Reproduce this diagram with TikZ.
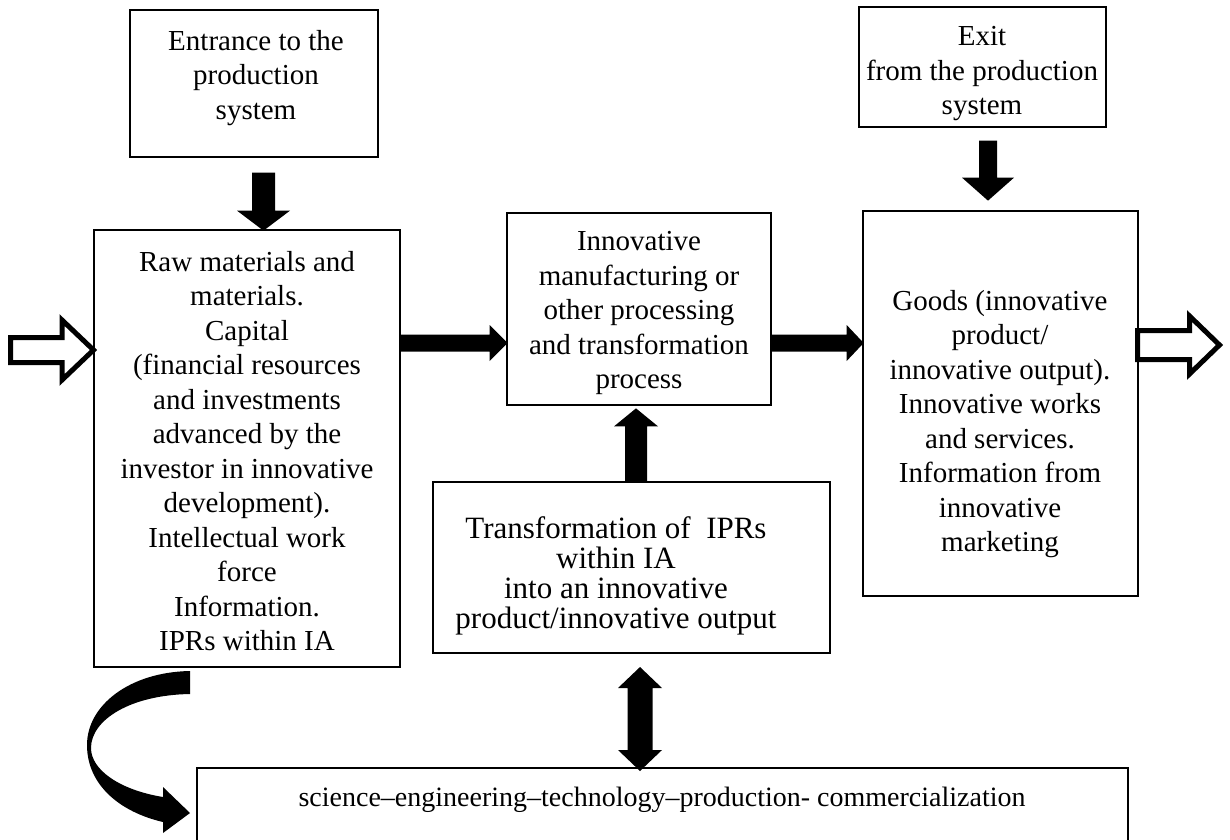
\documentclass[tikz,border=0pt]{standalone}
\usepackage{fontspec}
\setmainfont{Liberation Serif}
\usetikzlibrary{calc}
\newcommand{\blockarrow}[6]{% start, angle, length, shaft width, head width, head length
  \fill[black, shift={#1}, rotate=#2] (0,{-#4/2}) -- ({#3-#6},{-#4/2}) -- ({#3-#6},{-#5/2}) -- (#3,0) -- ({#3-#6},{#5/2}) -- ({#3-#6},{#4/2}) -- (0,{#4/2}) -- cycle;}
\begin{document}
\begin{tikzpicture}[x=1pt,y=-1pt,
  box/.style={draw=black, line width=1.3pt, inner sep=0pt},
  txt/.style={align=center, inner sep=0pt, font=\fontsize{29}{34.5}\selectfont},
  hollow/.style={draw=black, line width=5pt, fill=white, line join=miter}]
\useasboundingbox (0,0) rectangle (1230,839);
% boxes
\node[box, minimum width=248pt, minimum height=147pt] (entr) at (254,83.5) {};
\node[box, minimum width=247pt, minimum height=120pt] (exitb) at (982.5,67) {};
\node[box, minimum width=306pt, minimum height=437pt] (left) at (247,448.5) {};
\node[box, minimum width=264pt, minimum height=192pt] (mid) at (639,309) {};
\node[box, minimum width=397pt, minimum height=171pt] (tr) at (631.5,567.5) {};
\node[box, minimum width=275pt, minimum height=385pt] (right) at (1000.5,403.5) {};
\node[box, minimum width=931pt, minimum height=80pt] (bottom) at (662.5,808) {};
% texts
\node[txt] (entrtxt) at (256,78) {Entrance to the\\production\\system};
\node[txt] (exittxt) at (982,74) {Exit\\from the production\\system};
\node[txt] (lefttxt) at (247,451) {Raw materials and\\materials.\\Capital\\(financial resources\\and investments\\advanced by the\\investor in innovative\\development).\\Intellectual work\\force\\Information.\\IPRs within IA};
\node[txt] (midtxt) at (639,313) {Innovative\\manufacturing or\\other processing\\and transformation\\process};
\node[txt, font=\fontsize{31}{30}\selectfont] (trtxt) at (616,576) {Transformation of\ \ IPRs\\within IA\\into an innovative\\product/innovative output};
\node[txt] (righttxt) at (1000,424) {Goods (innovative\\product/\\innovative output).\\Innovative works\\and services.\\Information from\\innovative\\marketing};
\node[txt, font=\fontsize{28}{34}\selectfont] (bottomtxt) at (662,800) {science–engineering–technology–production- commercialization};
% block arrows
\blockarrow{($(entr.south)+(9.5,15)$)}{-90}{58}{23}{53}{20}
\blockarrow{($(exitb.south)+(5.5,13)$)}{-90}{60}{18}{52}{23}
\blockarrow{($(left.east)+(0,-105.5)$)}{0}{107}{17}{36}{18}
\blockarrow{($(mid.east)+(0,34)$)}{0}{92}{17}{36}{17}
\blockarrow{($(tr.north)+(4.5,0)$)}{90}{73}{22}{44}{18}
% double arrow between tr and bottom
\fill[black] (627.5,688) -- (618,688) -- (640,667) -- (662,688) -- (652.5,688)
  -- (652.5,750) -- (662,750) -- (640,771) -- (618,750) -- (627.5,750) -- cycle;
% hollow arrows
\draw[hollow] (10.5,337.5) -- (62,337.5) -- (62,320) -- (93.5,350) -- (62,380) -- (62,362.5) -- (10.5,362.5) -- cycle;
\draw[hollow] (1137.5,330.5) -- (1189.5,330.5) -- (1189.5,316) -- (1219.5,345) -- (1189.5,374) -- (1189.5,359.5) -- (1137.5,359.5) -- cycle;
% curved arrow
\fill[black] (190,671) .. controls (130,672) and (87,705) .. (87,745)
  .. controls (87,785) and (120,812) .. (163,822) -- (163,833) -- (190,813) -- (163,787) -- (163,797)
  .. controls (120,790) and (91,770) .. (91,748) .. controls (91,720) and (130,695) .. (190,694) -- cycle;
\end{tikzpicture}
\end{document}
